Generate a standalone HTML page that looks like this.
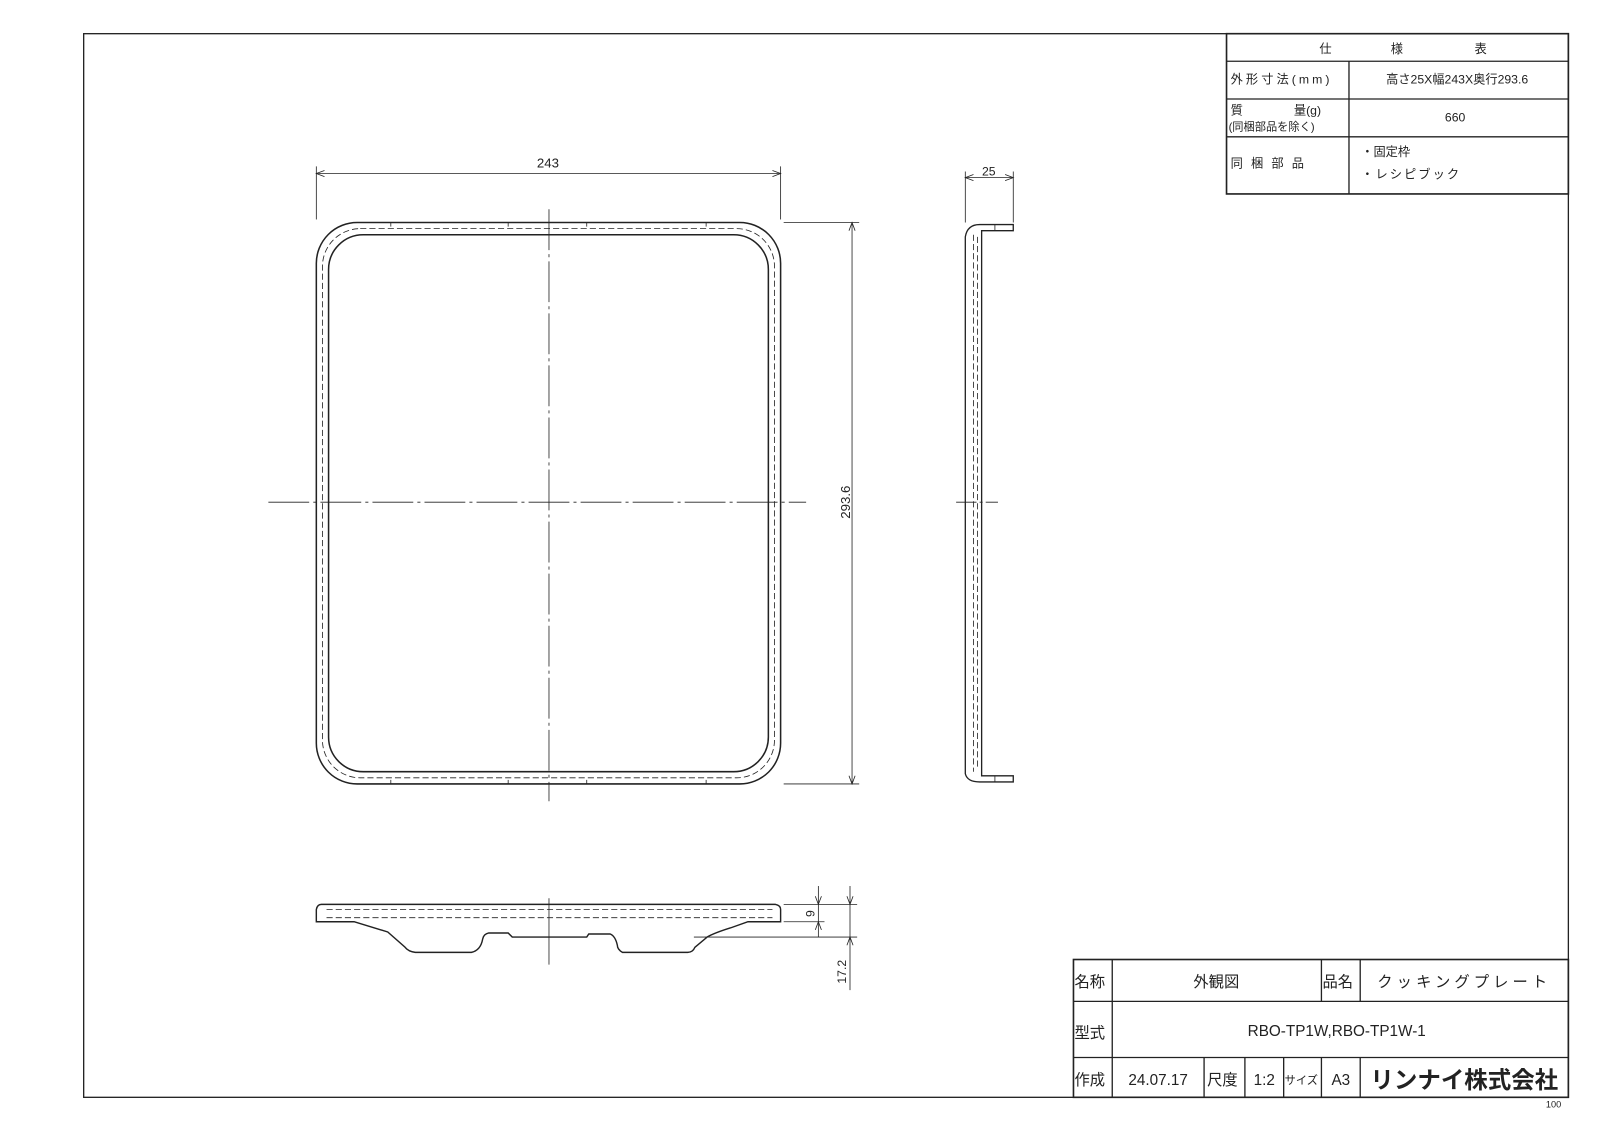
<!DOCTYPE html>
<html><head><meta charset="utf-8"><style>
html,body{margin:0;padding:0;background:#fff}
svg{display:block}
text{font-family:"Liberation Sans","Noto Sans CJK JP",sans-serif;fill:#222}
</style></head><body>
<svg width="1600" height="1131" viewBox="0 0 1568 1108" preserveAspectRatio="none" xmlns="http://www.w3.org/2000/svg">
<rect width="1568" height="1108" fill="#fff"/>
<g fill="none" stroke="#222" stroke-width="1.3">
<rect x="82" y="33" width="1455" height="1042"/>
<!-- spec table -->
<rect x="1202" y="33" width="335" height="157" stroke-width="1.6"/>
<line x1="1202" y1="60" x2="1537" y2="60"/>
<line x1="1202" y1="97" x2="1537" y2="97"/>
<line x1="1202" y1="134" x2="1537" y2="134"/>
<line x1="1322" y1="60" x2="1322" y2="190"/>
<!-- title block -->
<rect x="1052" y="940" width="485" height="135" stroke-width="1.6"/>
<line x1="1052" y1="981" x2="1537" y2="981"/>
<line x1="1052" y1="1036" x2="1537" y2="1036"/>
<line x1="1090" y1="940" x2="1090" y2="1075"/>
<line x1="1295" y1="940" x2="1295" y2="981"/>
<line x1="1333" y1="940" x2="1333" y2="981"/>
<line x1="1180" y1="1036" x2="1180" y2="1075"/>
<line x1="1220" y1="1036" x2="1220" y2="1075"/>
<line x1="1258" y1="1036" x2="1258" y2="1075"/>
<line x1="1295" y1="1036" x2="1295" y2="1075"/>
<line x1="1333" y1="1036" x2="1333" y2="1075"/>
</g>
<!-- front view -->
<g fill="none" stroke="#222">
<rect x="310" y="218" width="455" height="550" rx="40" stroke-width="1.5"/>
<rect x="322" y="230" width="431" height="526" rx="34" stroke-width="1.5"/>
<rect x="316" y="224" width="443" height="538" rx="37" stroke-width="0.8" stroke-dasharray="6,3"/>
<g stroke-width="0.8">
<line x1="538" y1="205" x2="538" y2="785" stroke-dasharray="40,4,3,4"/>
<line x1="263" y1="492" x2="790" y2="492" stroke-dasharray="40,4,3,4"/>
<line x1="383" y1="218" x2="383" y2="222"/><line x1="498" y1="218" x2="498" y2="222"/>
<line x1="575" y1="218" x2="575" y2="222"/><line x1="692" y1="218" x2="692" y2="222"/>
<line x1="383" y1="764" x2="383" y2="768"/><line x1="498" y1="764" x2="498" y2="768"/>
<line x1="575" y1="764" x2="575" y2="768"/><line x1="692" y1="764" x2="692" y2="768"/>
<!-- dims -->
<line x1="310" y1="163" x2="310" y2="215"/><line x1="765" y1="163" x2="765" y2="215"/>
<line x1="310" y1="170" x2="765" y2="170"/>
<path d="M318,167 L310,170 L318,173 M757,167 L765,170 L757,173"/>
<line x1="768" y1="218" x2="842" y2="218"/><line x1="768" y1="768" x2="842" y2="768"/>
<line x1="835" y1="218" x2="835" y2="768"/>
<path d="M832,226 L835,218 L838,226 M832,760 L835,768 L838,760"/>
</g>
</g>
<text x="537" y="164" font-size="13" text-anchor="middle">243</text>
<text x="0" y="0" font-size="13" text-anchor="middle" transform="translate(833,492) rotate(-90)">293.6</text>
<!-- side view -->
<g fill="none" stroke="#222">
<path d="M993,220 L960,220 Q948,220 946,232 L946,758 Q948,766 960,766 L993,766 L993,760 L962,760 L962,226 L993,226 Z" stroke-width="1.3"/>
<line x1="954" y1="230" x2="954" y2="756" stroke-width="0.8" stroke-dasharray="6,3"/>
<line x1="958" y1="232" x2="958" y2="754" stroke-width="0.8" stroke-dasharray="6,3"/>
<line x1="975" y1="220" x2="975" y2="226" stroke-width="0.8"/>
<line x1="975" y1="760" x2="975" y2="766" stroke-width="0.8"/>
<g stroke-width="0.8">
<line x1="937" y1="492" x2="978" y2="492" stroke-dasharray="20,3,3,3"/>
<line x1="946" y1="168" x2="946" y2="218"/><line x1="993" y1="168" x2="993" y2="218"/>
<line x1="946" y1="174" x2="993" y2="174"/>
<path d="M954,171 L946,174 L954,177 M985,171 L993,174 L985,177"/>
</g>
</g>
<text x="969" y="172" font-size="12" text-anchor="middle">25</text>
<!-- bottom view -->
<g fill="none" stroke="#222">
<path d="M315,886 L760,886 Q765,887 765,891 L765,903 L733,903 L716,909 Q700,914 693,918 L681,928 Q679,933 674,933 L610,933 Q605,930 605,926 Q603,917 598,915 L577,915 L575,918 L502,918 L498,914 L479,914 Q474,915 473,920 Q471,931 462,933 L407,933 Q400,932 397,928 L380,913 L347,903 L310,903 L310,891 Q311,886 315,886 Z" stroke-width="1.4"/>
<line x1="320" y1="891" x2="757" y2="891" stroke-width="0.8" stroke-dasharray="6,3"/>
<line x1="320" y1="899" x2="757" y2="899" stroke-width="0.8" stroke-dasharray="6,3"/>
<g stroke-width="0.8">
<line x1="538" y1="880" x2="538" y2="945"/>
<line x1="768" y1="886" x2="840" y2="886"/>
<line x1="768" y1="903" x2="808" y2="903"/>
<line x1="680" y1="918" x2="840" y2="918"/>
<line x1="802" y1="868" x2="802" y2="918"/>
<path d="M799,878 L802,886 L805,878 M799,911 L802,903 L805,911"/>
<line x1="833" y1="868" x2="833" y2="970"/>
<path d="M830,878 L833,886 L836,878 M830,926 L833,918 L836,926"/>
</g>
</g>
<text font-size="12" text-anchor="middle" transform="translate(798,895) rotate(-90)">9</text>
<text font-size="12" text-anchor="middle" transform="translate(829,952) rotate(-90)">17.2</text>
<!-- spec text -->
<g font-size="12">
<text x="1293" y="52">仕</text><text x="1363" y="52">様</text><text x="1445" y="52">表</text>
<text x="1206" y="82" letter-spacing="3">外形寸法(mm)</text>
<text x="1428" y="82" text-anchor="middle">高さ25X幅243X奥行293.6</text>
<text x="1206" y="112">質</text><text x="1268" y="112">量(g)</text>
<text x="1204" y="128" font-size="11">(同梱部品を除く)</text>
<text x="1426" y="119" text-anchor="middle">660</text>
<text x="1206" y="164" letter-spacing="8">同梱部品</text>
<text x="1334" y="153">・固定枠</text>
<text x="1334" y="175" letter-spacing="2">・レシピブック</text>
</g>
<!-- title text -->
<g font-size="15">
<text x="1053" y="967">名称</text>
<text x="1192" y="967" text-anchor="middle">外観図</text>
<text x="1296" y="967">品名</text>
<text x="1435" y="967" text-anchor="middle" letter-spacing="4">クッキングプレート</text>
<text x="1053" y="1017">型式</text>
<text x="1310" y="1015" text-anchor="middle">RBO-TP1W,RBO-TP1W-1</text>
<text x="1053" y="1063">作成</text>
<text x="1135" y="1063" text-anchor="middle">24.07.17</text>
<text x="1183" y="1063">尺度</text>
<text x="1239" y="1063" text-anchor="middle">1:2</text>
<text x="1259" y="1062" font-size="11">サイズ</text>
<text x="1314" y="1063" text-anchor="middle">A3</text>
<text x="1435" y="1066" text-anchor="middle" font-size="23" font-weight="bold">リンナイ株式会社</text>
</g>
<text x="1530" y="1085" font-size="9" text-anchor="end">100</text>
</svg>
</body></html>
